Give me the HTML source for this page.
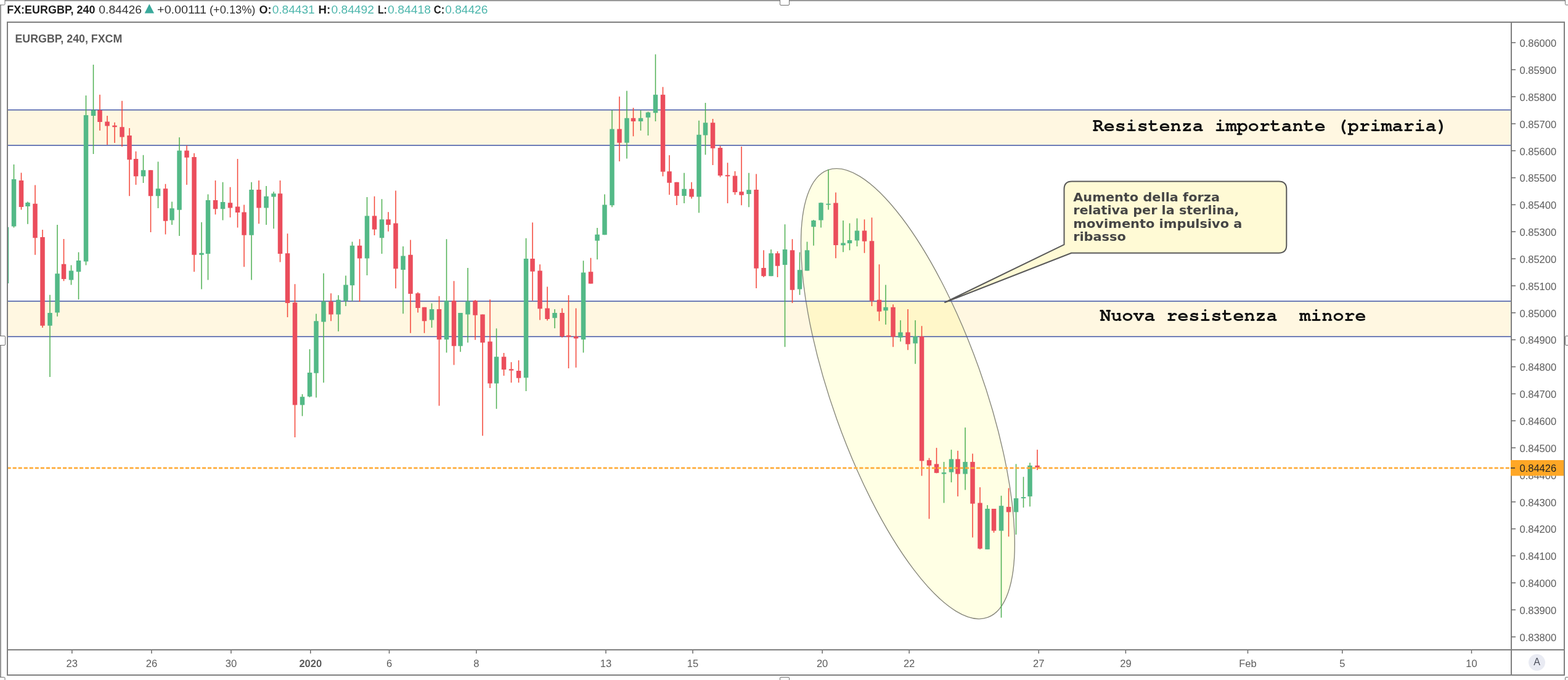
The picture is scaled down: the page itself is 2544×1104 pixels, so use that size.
<!DOCTYPE html><html><head><meta charset="utf-8"><title>EURGBP chart</title><style>
html,body{margin:0;padding:0;background:#fff;width:2544px;height:1104px;overflow:hidden}
svg{display:block}
text{font-family:"Liberation Sans",Arial,sans-serif}
.ax{font-size:16.5px;fill:#5c5c5c}
.mono{font-family:"TeX Gyre Cursor","FreeMono","Liberation Mono","Courier New",monospace;font-weight:bold;fill:#111}
</style></head><body>
<svg width="2544" height="1104" viewBox="0 0 2544 1104">
<defs><clipPath id="pane"><rect x="13" y="37" width="2438" height="1017"/></clipPath></defs>
<rect x="0" y="0" width="2544" height="1104" fill="#fff"/>
<g clip-path="url(#pane)">
<rect x="13" y="178.5" width="2438" height="57.5" fill="#ffbc05" fill-opacity="0.12"/>
<rect x="13" y="489" width="2438" height="57.5" fill="#ffbc05" fill-opacity="0.12"/>
<ellipse cx="1472.92" cy="639.2" rx="385.61" ry="122.51" transform="rotate(70.39 1472.92 639.2)" fill="#ffff00" fill-opacity="0.107" stroke="#858579" stroke-width="1.35"/>
<line x1="13" y1="178.5" x2="2451" y2="178.5" stroke="#3d52a3" stroke-width="1.6"/>
<line x1="13" y1="236" x2="2451" y2="236" stroke="#3d52a3" stroke-width="1.6"/>
<line x1="13" y1="489" x2="2451" y2="489" stroke="#3d52a3" stroke-width="1.6"/>
<line x1="13" y1="546.5" x2="2451" y2="546.5" stroke="#3d52a3" stroke-width="1.6"/>
<rect x="9.75" y="368.75" width="1.5" height="91.25" fill="#4caf50"/>
<rect x="6.75" y="368.75" width="7.5" height="91.25" fill="#53b987"/>
<rect x="21.75" y="267.0" width="1.5" height="102.50" fill="#4caf50"/>
<rect x="18.75" y="291.0" width="7.5" height="76.50" fill="#53b987"/>
<rect x="33.75" y="280.5" width="1.5" height="60.00" fill="#f44336"/>
<rect x="30.75" y="293.0" width="7.5" height="43.00" fill="#eb4d5c"/>
<rect x="44.25" y="327.5" width="1.5" height="36.25" fill="#4caf50"/>
<rect x="41.25" y="329.0" width="7.5" height="6.00" fill="#53b987"/>
<rect x="56.25" y="300.5" width="1.5" height="113.25" fill="#f44336"/>
<rect x="53.25" y="330.75" width="7.5" height="55.50" fill="#eb4d5c"/>
<rect x="68.25" y="373.0" width="1.5" height="159.00" fill="#f44336"/>
<rect x="65.25" y="385.0" width="7.5" height="143.75" fill="#eb4d5c"/>
<rect x="80.25" y="478.75" width="1.5" height="133.25" fill="#4caf50"/>
<rect x="77.25" y="508.0" width="7.5" height="20.75" fill="#53b987"/>
<rect x="92.25" y="365.0" width="1.5" height="148.75" fill="#4caf50"/>
<rect x="89.25" y="444.25" width="7.5" height="63.25" fill="#53b987"/>
<rect x="102.75" y="388.0" width="1.5" height="68.25" fill="#f44336"/>
<rect x="99.75" y="428.75" width="7.5" height="24.25" fill="#eb4d5c"/>
<rect x="114.75" y="430.5" width="1.5" height="32.00" fill="#4caf50"/>
<rect x="111.75" y="439.5" width="7.5" height="15.00" fill="#53b987"/>
<rect x="126.75" y="409.5" width="1.5" height="76.75" fill="#4caf50"/>
<rect x="123.75" y="423.0" width="7.5" height="18.25" fill="#53b987"/>
<rect x="138.75" y="155.0" width="1.5" height="275.50" fill="#4caf50"/>
<rect x="135.75" y="187.0" width="7.5" height="237.50" fill="#53b987"/>
<rect x="150.75" y="105.0" width="1.5" height="145.00" fill="#4caf50"/>
<rect x="147.75" y="179.0" width="7.5" height="9.00" fill="#53b987"/>
<rect x="161.25" y="153.75" width="1.5" height="58.25" fill="#f44336"/>
<rect x="158.25" y="179.0" width="7.5" height="19.00" fill="#eb4d5c"/>
<rect x="173.25" y="188.0" width="1.5" height="47.00" fill="#f44336"/>
<rect x="170.25" y="197.5" width="7.5" height="7.00" fill="#eb4d5c"/>
<rect x="185.25" y="198.75" width="1.5" height="33.25" fill="#f44336"/>
<rect x="182.25" y="203.75" width="7.5" height="2.50" fill="#eb4d5c"/>
<rect x="197.25" y="163.75" width="1.5" height="74.25" fill="#f44336"/>
<rect x="194.25" y="206.25" width="7.5" height="16.25" fill="#eb4d5c"/>
<rect x="209.25" y="208.0" width="1.5" height="110.25" fill="#f44336"/>
<rect x="206.25" y="220.0" width="7.5" height="39.25" fill="#eb4d5c"/>
<rect x="219.75" y="245.75" width="1.5" height="54.25" fill="#f44336"/>
<rect x="216.75" y="258.0" width="7.5" height="28.25" fill="#eb4d5c"/>
<rect x="231.75" y="251.75" width="1.5" height="45.25" fill="#4caf50"/>
<rect x="228.75" y="276.25" width="7.5" height="10.00" fill="#53b987"/>
<rect x="243.75" y="276.25" width="1.5" height="100.75" fill="#f44336"/>
<rect x="240.75" y="276.25" width="7.5" height="42.00" fill="#eb4d5c"/>
<rect x="255.75" y="262.5" width="1.5" height="75.50" fill="#4caf50"/>
<rect x="252.75" y="306.25" width="7.5" height="12.00" fill="#53b987"/>
<rect x="267.75" y="298.75" width="1.5" height="81.75" fill="#f44336"/>
<rect x="264.75" y="306.25" width="7.5" height="52.50" fill="#eb4d5c"/>
<rect x="278.25" y="327.5" width="1.5" height="37.50" fill="#4caf50"/>
<rect x="275.25" y="338.25" width="7.5" height="19.25" fill="#53b987"/>
<rect x="290.25" y="223.0" width="1.5" height="160.00" fill="#4caf50"/>
<rect x="287.25" y="244.5" width="7.5" height="96.25" fill="#53b987"/>
<rect x="302.25" y="236.25" width="1.5" height="63.75" fill="#f44336"/>
<rect x="299.25" y="244.5" width="7.5" height="11.25" fill="#eb4d5c"/>
<rect x="314.25" y="248.75" width="1.5" height="192.50" fill="#f44336"/>
<rect x="311.25" y="255.0" width="7.5" height="158.75" fill="#eb4d5c"/>
<rect x="326.25" y="360.75" width="1.5" height="108.75" fill="#4caf50"/>
<rect x="323.25" y="410.75" width="7.5" height="3.00" fill="#53b987"/>
<rect x="336.75" y="315.5" width="1.5" height="139.00" fill="#4caf50"/>
<rect x="333.75" y="325.0" width="7.5" height="87.00" fill="#53b987"/>
<rect x="348.75" y="293.0" width="1.5" height="55.25" fill="#f44336"/>
<rect x="345.75" y="325.0" width="7.5" height="14.25" fill="#eb4d5c"/>
<rect x="360.75" y="295.75" width="1.5" height="61.75" fill="#4caf50"/>
<rect x="357.75" y="328.0" width="7.5" height="11.25" fill="#53b987"/>
<rect x="372.75" y="303.75" width="1.5" height="49.25" fill="#f44336"/>
<rect x="369.75" y="329.25" width="7.5" height="8.25" fill="#eb4d5c"/>
<rect x="384.75" y="258.0" width="1.5" height="111.50" fill="#f44336"/>
<rect x="381.75" y="335.5" width="7.5" height="9.50" fill="#eb4d5c"/>
<rect x="395.25" y="332.5" width="1.5" height="100.75" fill="#f44336"/>
<rect x="392.25" y="344.5" width="7.5" height="37.25" fill="#eb4d5c"/>
<rect x="407.25" y="295.75" width="1.5" height="158.75" fill="#4caf50"/>
<rect x="404.25" y="308.0" width="7.5" height="73.75" fill="#53b987"/>
<rect x="419.25" y="293.0" width="1.5" height="70.25" fill="#f44336"/>
<rect x="416.25" y="308.0" width="7.5" height="29.50" fill="#eb4d5c"/>
<rect x="431.25" y="302.0" width="1.5" height="63.00" fill="#4caf50"/>
<rect x="428.25" y="318.75" width="7.5" height="18.75" fill="#53b987"/>
<rect x="443.25" y="311.25" width="1.5" height="60.00" fill="#4caf50"/>
<rect x="440.25" y="314.25" width="7.5" height="5.25" fill="#53b987"/>
<rect x="453.75" y="293.0" width="1.5" height="132.50" fill="#f44336"/>
<rect x="450.75" y="314.25" width="7.5" height="97.75" fill="#eb4d5c"/>
<rect x="465.75" y="379.25" width="1.5" height="135.75" fill="#f44336"/>
<rect x="462.75" y="411.25" width="7.5" height="80.75" fill="#eb4d5c"/>
<rect x="477.75" y="461.25" width="1.5" height="248.75" fill="#f44336"/>
<rect x="474.75" y="491.25" width="7.5" height="166.25" fill="#eb4d5c"/>
<rect x="489.75" y="640.0" width="1.5" height="35.50" fill="#4caf50"/>
<rect x="486.75" y="644.25" width="7.5" height="13.25" fill="#53b987"/>
<rect x="501.75" y="567.0" width="1.5" height="78.00" fill="#4caf50"/>
<rect x="498.75" y="605.0" width="7.5" height="38.75" fill="#53b987"/>
<rect x="512.25" y="509.5" width="1.5" height="136.00" fill="#4caf50"/>
<rect x="509.25" y="521.25" width="7.5" height="84.50" fill="#53b987"/>
<rect x="524.25" y="443.75" width="1.5" height="177.50" fill="#4caf50"/>
<rect x="521.25" y="489.5" width="7.5" height="33.00" fill="#53b987"/>
<rect x="536.25" y="476.25" width="1.5" height="45.00" fill="#f44336"/>
<rect x="533.25" y="489.5" width="7.5" height="21.00" fill="#eb4d5c"/>
<rect x="548.25" y="479.25" width="1.5" height="58.75" fill="#4caf50"/>
<rect x="545.25" y="486.75" width="7.5" height="23.75" fill="#53b987"/>
<rect x="560.25" y="447.5" width="1.5" height="49.50" fill="#4caf50"/>
<rect x="557.25" y="462.5" width="7.5" height="25.50" fill="#53b987"/>
<rect x="570.75" y="392.5" width="1.5" height="96.25" fill="#4caf50"/>
<rect x="567.75" y="398.75" width="7.5" height="64.50" fill="#53b987"/>
<rect x="582.75" y="388.25" width="1.5" height="101.75" fill="#f44336"/>
<rect x="579.75" y="398.75" width="7.5" height="20.75" fill="#eb4d5c"/>
<rect x="594.75" y="320.0" width="1.5" height="127.00" fill="#4caf50"/>
<rect x="591.75" y="350.5" width="7.5" height="69.00" fill="#53b987"/>
<rect x="606.75" y="318.75" width="1.5" height="63.25" fill="#f44336"/>
<rect x="603.75" y="350.5" width="7.5" height="22.00" fill="#eb4d5c"/>
<rect x="618.75" y="323.25" width="1.5" height="88.75" fill="#4caf50"/>
<rect x="615.75" y="356.25" width="7.5" height="30.00" fill="#53b987"/>
<rect x="629.25" y="344.25" width="1.5" height="31.50" fill="#f44336"/>
<rect x="626.25" y="356.25" width="7.5" height="8.75" fill="#eb4d5c"/>
<rect x="641.25" y="309.5" width="1.5" height="158.75" fill="#f44336"/>
<rect x="638.25" y="362.5" width="7.5" height="73.75" fill="#eb4d5c"/>
<rect x="653.25" y="400.0" width="1.5" height="109.25" fill="#4caf50"/>
<rect x="650.25" y="415.5" width="7.5" height="22.50" fill="#53b987"/>
<rect x="665.25" y="389.5" width="1.5" height="151.25" fill="#f44336"/>
<rect x="662.25" y="413.75" width="7.5" height="63.25" fill="#eb4d5c"/>
<rect x="677.25" y="474.5" width="1.5" height="33.00" fill="#f44336"/>
<rect x="674.25" y="476.25" width="7.5" height="23.75" fill="#eb4d5c"/>
<rect x="687.75" y="498.75" width="1.5" height="42.00" fill="#f44336"/>
<rect x="684.75" y="498.75" width="7.5" height="22.50" fill="#eb4d5c"/>
<rect x="699.75" y="492.5" width="1.5" height="39.50" fill="#4caf50"/>
<rect x="696.75" y="502.0" width="7.5" height="17.50" fill="#53b987"/>
<rect x="711.75" y="480.75" width="1.5" height="178.00" fill="#f44336"/>
<rect x="708.75" y="502.0" width="7.5" height="49.25" fill="#eb4d5c"/>
<rect x="723.75" y="388.25" width="1.5" height="184.25" fill="#4caf50"/>
<rect x="720.75" y="488.25" width="7.5" height="63.00" fill="#53b987"/>
<rect x="735.75" y="456.25" width="1.5" height="136.25" fill="#f44336"/>
<rect x="732.75" y="488.25" width="7.5" height="73.50" fill="#eb4d5c"/>
<rect x="746.25" y="508.0" width="1.5" height="63.25" fill="#4caf50"/>
<rect x="743.25" y="508.0" width="7.5" height="53.75" fill="#53b987"/>
<rect x="758.25" y="435.0" width="1.5" height="121.25" fill="#4caf50"/>
<rect x="755.25" y="489.25" width="7.5" height="21.25" fill="#53b987"/>
<rect x="770.25" y="487.0" width="1.5" height="64.75" fill="#f44336"/>
<rect x="767.25" y="488.25" width="7.5" height="23.50" fill="#eb4d5c"/>
<rect x="782.25" y="510.5" width="1.5" height="197.00" fill="#f44336"/>
<rect x="779.25" y="510.5" width="7.5" height="45.75" fill="#eb4d5c"/>
<rect x="794.25" y="486.25" width="1.5" height="143.75" fill="#f44336"/>
<rect x="791.25" y="554.5" width="7.5" height="68.00" fill="#eb4d5c"/>
<rect x="804.75" y="533.25" width="1.5" height="130.50" fill="#4caf50"/>
<rect x="801.75" y="579.25" width="7.5" height="43.25" fill="#53b987"/>
<rect x="816.75" y="573.0" width="1.5" height="37.00" fill="#f44336"/>
<rect x="813.75" y="579.25" width="7.5" height="20.75" fill="#eb4d5c"/>
<rect x="828.75" y="588.0" width="1.5" height="33.25" fill="#f44336"/>
<rect x="825.75" y="599.25" width="7.5" height="2.25" fill="#eb4d5c"/>
<rect x="840.75" y="585.0" width="1.5" height="36.25" fill="#f44336"/>
<rect x="837.75" y="602.0" width="7.5" height="11.75" fill="#eb4d5c"/>
<rect x="852.75" y="386.75" width="1.5" height="248.25" fill="#4caf50"/>
<rect x="849.75" y="420.0" width="7.5" height="193.25" fill="#53b987"/>
<rect x="863.25" y="361.25" width="1.5" height="126.75" fill="#f44336"/>
<rect x="860.25" y="420.0" width="7.5" height="20.75" fill="#eb4d5c"/>
<rect x="875.25" y="429.25" width="1.5" height="90.25" fill="#f44336"/>
<rect x="872.25" y="439.5" width="7.5" height="61.75" fill="#eb4d5c"/>
<rect x="887.25" y="465.5" width="1.5" height="55.00" fill="#f44336"/>
<rect x="884.25" y="500.5" width="7.5" height="17.50" fill="#eb4d5c"/>
<rect x="899.25" y="502.0" width="1.5" height="31.00" fill="#4caf50"/>
<rect x="896.25" y="508.0" width="7.5" height="8.25" fill="#53b987"/>
<rect x="911.25" y="500.5" width="1.5" height="47.50" fill="#f44336"/>
<rect x="908.25" y="508.0" width="7.5" height="38.25" fill="#eb4d5c"/>
<rect x="921.75" y="479.25" width="1.5" height="118.75" fill="#f44336"/>
<rect x="918.75" y="544.5" width="7.5" height="2.50" fill="#eb4d5c"/>
<rect x="933.75" y="500.5" width="1.5" height="96.25" fill="#f44336"/>
<rect x="930.75" y="546.25" width="7.5" height="3.25" fill="#eb4d5c"/>
<rect x="945.75" y="423.25" width="1.5" height="149.25" fill="#4caf50"/>
<rect x="942.75" y="442.5" width="7.5" height="108.75" fill="#53b987"/>
<rect x="957.75" y="418.75" width="1.5" height="41.75" fill="#f44336"/>
<rect x="954.75" y="441.25" width="7.5" height="19.25" fill="#eb4d5c"/>
<rect x="968.25" y="370.0" width="1.5" height="51.25" fill="#4caf50"/>
<rect x="965.25" y="380.75" width="7.5" height="10.00" fill="#53b987"/>
<rect x="980.25" y="315.5" width="1.5" height="65.75" fill="#4caf50"/>
<rect x="977.25" y="332.5" width="7.5" height="48.75" fill="#53b987"/>
<rect x="992.25" y="178.75" width="1.5" height="157.50" fill="#4caf50"/>
<rect x="989.25" y="209.5" width="7.5" height="123.75" fill="#53b987"/>
<rect x="1004.25" y="156.75" width="1.5" height="105.25" fill="#f44336"/>
<rect x="1001.25" y="209.5" width="7.5" height="22.25" fill="#eb4d5c"/>
<rect x="1016.25" y="147.5" width="1.5" height="110.00" fill="#4caf50"/>
<rect x="1013.25" y="191.75" width="7.5" height="40.00" fill="#53b987"/>
<rect x="1026.75" y="175.0" width="1.5" height="46.25" fill="#f44336"/>
<rect x="1023.75" y="191.75" width="7.5" height="5.25" fill="#eb4d5c"/>
<rect x="1038.75" y="179.25" width="1.5" height="32.75" fill="#4caf50"/>
<rect x="1035.75" y="191.75" width="7.5" height="5.25" fill="#53b987"/>
<rect x="1050.75" y="181.25" width="1.5" height="38.75" fill="#4caf50"/>
<rect x="1047.75" y="182.5" width="7.5" height="8.25" fill="#53b987"/>
<rect x="1062.75" y="88.25" width="1.5" height="108.75" fill="#4caf50"/>
<rect x="1059.75" y="153.75" width="7.5" height="29.50" fill="#53b987"/>
<rect x="1074.75" y="141.25" width="1.5" height="145.00" fill="#f44336"/>
<rect x="1071.75" y="153.75" width="7.5" height="125.00" fill="#eb4d5c"/>
<rect x="1085.25" y="252.0" width="1.5" height="64.25" fill="#f44336"/>
<rect x="1082.25" y="278.25" width="7.5" height="18.50" fill="#eb4d5c"/>
<rect x="1097.25" y="295.75" width="1.5" height="37.25" fill="#f44336"/>
<rect x="1094.25" y="295.75" width="7.5" height="22.25" fill="#eb4d5c"/>
<rect x="1109.25" y="280.75" width="1.5" height="49.25" fill="#4caf50"/>
<rect x="1106.25" y="306.75" width="7.5" height="11.25" fill="#53b987"/>
<rect x="1121.25" y="295.75" width="1.5" height="26.75" fill="#f44336"/>
<rect x="1118.25" y="306.75" width="7.5" height="12.75" fill="#eb4d5c"/>
<rect x="1133.25" y="195.75" width="1.5" height="149.75" fill="#4caf50"/>
<rect x="1130.25" y="218.75" width="7.5" height="100.75" fill="#53b987"/>
<rect x="1143.75" y="167.0" width="1.5" height="84.25" fill="#4caf50"/>
<rect x="1140.75" y="199.25" width="7.5" height="20.25" fill="#53b987"/>
<rect x="1155.75" y="193.0" width="1.5" height="75.00" fill="#f44336"/>
<rect x="1152.75" y="199.25" width="7.5" height="41.50" fill="#eb4d5c"/>
<rect x="1167.75" y="237.0" width="1.5" height="50.50" fill="#f44336"/>
<rect x="1164.75" y="240.0" width="7.5" height="45.00" fill="#eb4d5c"/>
<rect x="1179.75" y="264.25" width="1.5" height="65.75" fill="#f44336"/>
<rect x="1176.75" y="284.25" width="7.5" height="2.00" fill="#eb4d5c"/>
<rect x="1191.75" y="278.0" width="1.5" height="38.25" fill="#f44336"/>
<rect x="1188.75" y="285.5" width="7.5" height="26.50" fill="#eb4d5c"/>
<rect x="1202.25" y="238.0" width="1.5" height="95.25" fill="#f44336"/>
<rect x="1199.25" y="311.25" width="7.5" height="5.50" fill="#eb4d5c"/>
<rect x="1214.25" y="280.75" width="1.5" height="55.50" fill="#4caf50"/>
<rect x="1211.25" y="308.25" width="7.5" height="6.75" fill="#53b987"/>
<rect x="1226.25" y="282.5" width="1.5" height="185.50" fill="#f44336"/>
<rect x="1223.25" y="308.0" width="7.5" height="127.75" fill="#eb4d5c"/>
<rect x="1238.25" y="406.25" width="1.5" height="43.75" fill="#f44336"/>
<rect x="1235.25" y="435.0" width="7.5" height="13.25" fill="#eb4d5c"/>
<rect x="1250.25" y="405.0" width="1.5" height="43.25" fill="#4caf50"/>
<rect x="1247.25" y="411.25" width="7.5" height="37.00" fill="#53b987"/>
<rect x="1260.75" y="408.0" width="1.5" height="42.00" fill="#f44336"/>
<rect x="1257.75" y="411.25" width="7.5" height="20.50" fill="#eb4d5c"/>
<rect x="1272.75" y="364.25" width="1.5" height="199.00" fill="#4caf50"/>
<rect x="1269.75" y="405.0" width="7.5" height="25.00" fill="#53b987"/>
<rect x="1284.75" y="388.25" width="1.5" height="103.75" fill="#f44336"/>
<rect x="1281.75" y="406.25" width="7.5" height="64.50" fill="#eb4d5c"/>
<rect x="1296.75" y="409.5" width="1.5" height="69.25" fill="#4caf50"/>
<rect x="1293.75" y="438.25" width="7.5" height="31.25" fill="#53b987"/>
<rect x="1308.75" y="392.5" width="1.5" height="47.00" fill="#4caf50"/>
<rect x="1305.75" y="406.25" width="7.5" height="33.25" fill="#53b987"/>
<rect x="1319.25" y="357.0" width="1.5" height="41.75" fill="#4caf50"/>
<rect x="1316.25" y="358.0" width="7.5" height="10.25" fill="#53b987"/>
<rect x="1331.25" y="328.75" width="1.5" height="40.75" fill="#4caf50"/>
<rect x="1328.25" y="329.25" width="7.5" height="28.25" fill="#53b987"/>
<rect x="1343.25" y="275.0" width="1.5" height="65.50" fill="#4caf50"/>
<rect x="1340.25" y="330.75" width="7.5" height="1.75" fill="#53b987"/>
<rect x="1355.25" y="312.5" width="1.5" height="106.75" fill="#f44336"/>
<rect x="1352.25" y="329.5" width="7.5" height="68.50" fill="#eb4d5c"/>
<rect x="1367.25" y="358.0" width="1.5" height="51.25" fill="#4caf50"/>
<rect x="1364.25" y="394.5" width="7.5" height="3.75" fill="#53b987"/>
<rect x="1377.75" y="362.5" width="1.5" height="43.75" fill="#4caf50"/>
<rect x="1374.75" y="390.0" width="7.5" height="5.00" fill="#53b987"/>
<rect x="1389.75" y="354.5" width="1.5" height="45.50" fill="#4caf50"/>
<rect x="1386.75" y="374.5" width="7.5" height="16.00" fill="#53b987"/>
<rect x="1401.75" y="356.25" width="1.5" height="54.50" fill="#f44336"/>
<rect x="1398.75" y="374.5" width="7.5" height="17.25" fill="#eb4d5c"/>
<rect x="1413.75" y="353.25" width="1.5" height="143.75" fill="#f44336"/>
<rect x="1410.75" y="391.25" width="7.5" height="97.00" fill="#eb4d5c"/>
<rect x="1425.75" y="429.25" width="1.5" height="92.00" fill="#f44336"/>
<rect x="1422.75" y="486.75" width="7.5" height="19.00" fill="#eb4d5c"/>
<rect x="1436.25" y="462.5" width="1.5" height="64.50" fill="#4caf50"/>
<rect x="1433.25" y="498.75" width="7.5" height="5.50" fill="#53b987"/>
<rect x="1448.25" y="494.25" width="1.5" height="69.00" fill="#f44336"/>
<rect x="1445.25" y="498.75" width="7.5" height="48.00" fill="#eb4d5c"/>
<rect x="1460.25" y="520.0" width="1.5" height="34.50" fill="#4caf50"/>
<rect x="1457.25" y="539.5" width="7.5" height="8.50" fill="#53b987"/>
<rect x="1472.25" y="502.0" width="1.5" height="66.25" fill="#f44336"/>
<rect x="1469.25" y="539.5" width="7.5" height="19.25" fill="#eb4d5c"/>
<rect x="1484.25" y="520.0" width="1.5" height="70.75" fill="#4caf50"/>
<rect x="1481.25" y="546.25" width="7.5" height="11.25" fill="#53b987"/>
<rect x="1494.75" y="529.25" width="1.5" height="243.25" fill="#f44336"/>
<rect x="1491.75" y="546.25" width="7.5" height="202.05" fill="#eb4d5c"/>
<rect x="1506.75" y="743.6" width="1.5" height="98.80" fill="#f44336"/>
<rect x="1503.75" y="747.1" width="7.5" height="8.70" fill="#eb4d5c"/>
<rect x="1518.75" y="727.1" width="1.5" height="41.20" fill="#f44336"/>
<rect x="1515.75" y="753.4" width="7.5" height="14.40" fill="#eb4d5c"/>
<rect x="1530.75" y="749.9" width="1.5" height="66.60" fill="#4caf50"/>
<rect x="1527.75" y="767.1" width="7.5" height="2.40" fill="#53b987"/>
<rect x="1542.75" y="730.1" width="1.5" height="53.00" fill="#4caf50"/>
<rect x="1539.75" y="745.4" width="7.5" height="21.20" fill="#53b987"/>
<rect x="1553.25" y="731.8" width="1.5" height="74.10" fill="#f44336"/>
<rect x="1550.25" y="745.4" width="7.5" height="24.10" fill="#eb4d5c"/>
<rect x="1565.25" y="694.1" width="1.5" height="101.30" fill="#4caf50"/>
<rect x="1562.25" y="749.9" width="7.5" height="19.60" fill="#53b987"/>
<rect x="1577.25" y="736.5" width="1.5" height="136.10" fill="#f44336"/>
<rect x="1574.25" y="749.9" width="7.5" height="67.80" fill="#eb4d5c"/>
<rect x="1589.25" y="791.1" width="1.5" height="100.80" fill="#f44336"/>
<rect x="1586.25" y="816.5" width="7.5" height="74.20" fill="#eb4d5c"/>
<rect x="1601.25" y="820.1" width="1.5" height="71.80" fill="#4caf50"/>
<rect x="1598.25" y="826.0" width="7.5" height="65.90" fill="#53b987"/>
<rect x="1611.75" y="826.0" width="1.5" height="38.80" fill="#f44336"/>
<rect x="1608.75" y="826.0" width="7.5" height="35.70" fill="#eb4d5c"/>
<rect x="1623.75" y="804.8" width="1.5" height="197.95" fill="#4caf50"/>
<rect x="1620.75" y="821.2" width="7.5" height="40.50" fill="#53b987"/>
<rect x="1635.75" y="792.5" width="1.5" height="78.70" fill="#f44336"/>
<rect x="1632.75" y="822.9" width="7.5" height="8.50" fill="#eb4d5c"/>
<rect x="1647.75" y="753.4" width="1.5" height="114.50" fill="#4caf50"/>
<rect x="1644.75" y="809.0" width="7.5" height="22.40" fill="#53b987"/>
<rect x="1659.75" y="774.2" width="1.5" height="49.90" fill="#4caf50"/>
<rect x="1656.75" y="807.1" width="7.5" height="1.90" fill="#53b987"/>
<rect x="1670.25" y="751.3" width="1.5" height="71.10" fill="#4caf50"/>
<rect x="1667.25" y="755.8" width="7.5" height="50.10" fill="#53b987"/>
<rect x="1682.25" y="730.1" width="1.5" height="33.00" fill="#f44336"/>
<rect x="1679.25" y="755.8" width="7.5" height="3.10" fill="#eb4d5c"/>
<line x1="13" y1="759.8" x2="2451" y2="759.8" stroke="#ffab38" stroke-width="2.7" stroke-dasharray="6.1 2.9375" stroke-dashoffset="1.4"/>
<text class="mono" x="1772.8" y="212.5" font-size="30">Resistenza importante (primaria)</text>
<text class="mono" x="1784.5" y="520.5" font-size="30" xml:space="preserve">Nuova resistenza  minore</text>
<path d="M1739,294.5 H2074.8 Q2087.3,294.5 2087.3,307 V398 Q2087.3,410.7 2074.8,410.7 H1738.3 L1533,491 L1726.5,397.2 V307 Q1726.5,294.5 1739,294.5 Z" fill="#fffad5" stroke="#595959" stroke-width="2" stroke-linejoin="round"/>
<text x="1741.2" y="326.9" font-size="19.3" font-weight="bold" fill="#454545" style="font-family:'DejaVu Sans',Verdana,sans-serif" textLength="237.8" lengthAdjust="spacingAndGlyphs">Aumento della forza</text>
<text x="1741.2" y="348.3" font-size="19.3" font-weight="bold" fill="#454545" style="font-family:'DejaVu Sans',Verdana,sans-serif" textLength="269.1" lengthAdjust="spacingAndGlyphs">relativa per la sterlina,</text>
<text x="1741.2" y="369.75" font-size="19.3" font-weight="bold" fill="#454545" style="font-family:'DejaVu Sans',Verdana,sans-serif" textLength="274.3" lengthAdjust="spacingAndGlyphs">movimento impulsivo a</text>
<text x="1741.2" y="390.5" font-size="19.3" font-weight="bold" fill="#454545" style="font-family:'DejaVu Sans',Verdana,sans-serif" textLength="85.6" lengthAdjust="spacingAndGlyphs">ribasso</text>
<text x="24.5" y="68.8" font-size="19" font-weight="bold" fill="#5a5a5a" textLength="173.8" lengthAdjust="spacingAndGlyphs">EURGBP, 240, FXCM</text>
</g>
<g fill="none" stroke="#7f7f7f" stroke-width="2">
<rect x="12" y="36" width="2526" height="1060"/>
<line x1="2452" y1="36" x2="2452" y2="1096"/>
<line x1="12" y1="1055" x2="2538" y2="1055"/>
</g>
<line x1="2452" y1="69.3" x2="2459" y2="69.3" stroke="#6a6a6a" stroke-width="1.5"/>
<text class="ax" x="2465.5" y="76.1">0.86000</text>
<line x1="2452" y1="113.2" x2="2459" y2="113.2" stroke="#6a6a6a" stroke-width="1.5"/>
<text class="ax" x="2465.5" y="120.0">0.85900</text>
<line x1="2452" y1="157.0" x2="2459" y2="157.0" stroke="#6a6a6a" stroke-width="1.5"/>
<text class="ax" x="2465.5" y="163.8">0.85800</text>
<line x1="2452" y1="200.9" x2="2459" y2="200.9" stroke="#6a6a6a" stroke-width="1.5"/>
<text class="ax" x="2465.5" y="207.7">0.85700</text>
<line x1="2452" y1="244.7" x2="2459" y2="244.7" stroke="#6a6a6a" stroke-width="1.5"/>
<text class="ax" x="2465.5" y="251.5">0.85600</text>
<line x1="2452" y1="288.6" x2="2459" y2="288.6" stroke="#6a6a6a" stroke-width="1.5"/>
<text class="ax" x="2465.5" y="295.4">0.85500</text>
<line x1="2452" y1="332.4" x2="2459" y2="332.4" stroke="#6a6a6a" stroke-width="1.5"/>
<text class="ax" x="2465.5" y="339.2">0.85400</text>
<line x1="2452" y1="376.2" x2="2459" y2="376.2" stroke="#6a6a6a" stroke-width="1.5"/>
<text class="ax" x="2465.5" y="383.1">0.85300</text>
<line x1="2452" y1="420.1" x2="2459" y2="420.1" stroke="#6a6a6a" stroke-width="1.5"/>
<text class="ax" x="2465.5" y="426.9">0.85200</text>
<line x1="2452" y1="464.0" x2="2459" y2="464.0" stroke="#6a6a6a" stroke-width="1.5"/>
<text class="ax" x="2465.5" y="470.8">0.85100</text>
<line x1="2452" y1="507.8" x2="2459" y2="507.8" stroke="#6a6a6a" stroke-width="1.5"/>
<text class="ax" x="2465.5" y="514.6">0.85000</text>
<line x1="2452" y1="551.6" x2="2459" y2="551.6" stroke="#6a6a6a" stroke-width="1.5"/>
<text class="ax" x="2465.5" y="558.4">0.84900</text>
<line x1="2452" y1="595.5" x2="2459" y2="595.5" stroke="#6a6a6a" stroke-width="1.5"/>
<text class="ax" x="2465.5" y="602.3">0.84800</text>
<line x1="2452" y1="639.4" x2="2459" y2="639.4" stroke="#6a6a6a" stroke-width="1.5"/>
<text class="ax" x="2465.5" y="646.1">0.84700</text>
<line x1="2452" y1="683.2" x2="2459" y2="683.2" stroke="#6a6a6a" stroke-width="1.5"/>
<text class="ax" x="2465.5" y="690.0">0.84600</text>
<line x1="2452" y1="727.0" x2="2459" y2="727.0" stroke="#6a6a6a" stroke-width="1.5"/>
<text class="ax" x="2465.5" y="733.8">0.84500</text>
<line x1="2452" y1="770.9" x2="2459" y2="770.9" stroke="#6a6a6a" stroke-width="1.5"/>
<text class="ax" x="2465.5" y="777.7">0.84400</text>
<line x1="2452" y1="814.8" x2="2459" y2="814.8" stroke="#6a6a6a" stroke-width="1.5"/>
<text class="ax" x="2465.5" y="821.5">0.84300</text>
<line x1="2452" y1="858.6" x2="2459" y2="858.6" stroke="#6a6a6a" stroke-width="1.5"/>
<text class="ax" x="2465.5" y="865.4">0.84200</text>
<line x1="2452" y1="902.4" x2="2459" y2="902.4" stroke="#6a6a6a" stroke-width="1.5"/>
<text class="ax" x="2465.5" y="909.2">0.84100</text>
<line x1="2452" y1="946.3" x2="2459" y2="946.3" stroke="#6a6a6a" stroke-width="1.5"/>
<text class="ax" x="2465.5" y="953.1">0.84000</text>
<line x1="2452" y1="990.1" x2="2459" y2="990.1" stroke="#6a6a6a" stroke-width="1.5"/>
<text class="ax" x="2465.5" y="996.9">0.83900</text>
<line x1="2452" y1="1034.0" x2="2459" y2="1034.0" stroke="#6a6a6a" stroke-width="1.5"/>
<text class="ax" x="2465.5" y="1040.8">0.83800</text>
<rect x="2451" y="747" width="86" height="25.5" fill="#ffa726"/>
<line x1="2451" y1="759.8" x2="2458" y2="759.8" stroke="#333" stroke-width="1.5"/>
<text x="2465.5" y="765.8" font-size="16.5" fill="#222">0.84426</text>
<line x1="116.8" y1="1056" x2="116.8" y2="1061" stroke="#6a6a6a" stroke-width="1.5"/>
<text class="ax" x="116.8" y="1083" text-anchor="middle">23</text>
<line x1="245.9" y1="1056" x2="245.9" y2="1061" stroke="#6a6a6a" stroke-width="1.5"/>
<text class="ax" x="245.9" y="1083" text-anchor="middle">26</text>
<line x1="374.9" y1="1056" x2="374.9" y2="1061" stroke="#6a6a6a" stroke-width="1.5"/>
<text class="ax" x="374.9" y="1083" text-anchor="middle">30</text>
<line x1="503.8" y1="1056" x2="503.8" y2="1061" stroke="#6a6a6a" stroke-width="1.5"/>
<text class="ax" x="503.8" y="1083" text-anchor="middle" font-weight="bold">2020</text>
<line x1="631.5" y1="1056" x2="631.5" y2="1061" stroke="#6a6a6a" stroke-width="1.5"/>
<text class="ax" x="631.5" y="1083" text-anchor="middle">6</text>
<line x1="772.8" y1="1056" x2="772.8" y2="1061" stroke="#6a6a6a" stroke-width="1.5"/>
<text class="ax" x="772.8" y="1083" text-anchor="middle">8</text>
<line x1="983" y1="1056" x2="983" y2="1061" stroke="#6a6a6a" stroke-width="1.5"/>
<text class="ax" x="983" y="1083" text-anchor="middle">13</text>
<line x1="1124" y1="1056" x2="1124" y2="1061" stroke="#6a6a6a" stroke-width="1.5"/>
<text class="ax" x="1124" y="1083" text-anchor="middle">15</text>
<line x1="1334.1" y1="1056" x2="1334.1" y2="1061" stroke="#6a6a6a" stroke-width="1.5"/>
<text class="ax" x="1334.1" y="1083" text-anchor="middle">20</text>
<line x1="1475.1" y1="1056" x2="1475.1" y2="1061" stroke="#6a6a6a" stroke-width="1.5"/>
<text class="ax" x="1475.1" y="1083" text-anchor="middle">22</text>
<line x1="1685.3" y1="1056" x2="1685.3" y2="1061" stroke="#6a6a6a" stroke-width="1.5"/>
<text class="ax" x="1685.3" y="1083" text-anchor="middle">27</text>
<line x1="1826.4" y1="1056" x2="1826.4" y2="1061" stroke="#6a6a6a" stroke-width="1.5"/>
<text class="ax" x="1826.4" y="1083" text-anchor="middle">29</text>
<line x1="2024.5" y1="1056" x2="2024.5" y2="1061" stroke="#6a6a6a" stroke-width="1.5"/>
<text class="ax" x="2024.5" y="1083" text-anchor="middle">Feb</text>
<line x1="2177.8" y1="1056" x2="2177.8" y2="1061" stroke="#6a6a6a" stroke-width="1.5"/>
<text class="ax" x="2177.8" y="1083" text-anchor="middle">5</text>
<line x1="2387.5" y1="1056" x2="2387.5" y2="1061" stroke="#6a6a6a" stroke-width="1.5"/>
<text class="ax" x="2387.5" y="1083" text-anchor="middle">10</text>
<circle cx="2493.5" cy="1075.5" r="13.5" fill="#e9ebf3"/>
<text x="2493.5" y="1079.8" font-size="16" text-anchor="middle" fill="#4a4e5a">A</text>
<text x="11.2" y="21.5" font-size="19" font-weight="bold" fill="#1e1e1e" textLength="143.3" lengthAdjust="spacingAndGlyphs">FX:EURGBP, 240</text>
<text x="160.3" y="21.5" font-size="19" fill="#333" textLength="69.7" lengthAdjust="spacingAndGlyphs">0.84426</text>
<path d="M242.3,6.5 L250,21.6 L234.6,21.6 Z" fill="#3aa99c"/>
<text x="255.1" y="21.5" font-size="19" fill="#333" textLength="80.0" lengthAdjust="spacingAndGlyphs">+0.00111</text>
<text x="340.0" y="21.5" font-size="19" fill="#333" textLength="74.4" lengthAdjust="spacingAndGlyphs">(+0.13%)</text>
<text x="420.6" y="21.5" font-size="19" font-weight="bold" fill="#1e1e1e" textLength="19.9" lengthAdjust="spacingAndGlyphs">O:</text>
<text x="441.7" y="21.5" font-size="19" fill="#4db6ac" textLength="69.0" lengthAdjust="spacingAndGlyphs">0.84431</text>
<text x="516.6" y="21.5" font-size="19" font-weight="bold" fill="#1e1e1e" textLength="19.7" lengthAdjust="spacingAndGlyphs">H:</text>
<text x="537.5" y="21.5" font-size="19" fill="#4db6ac" textLength="69.4" lengthAdjust="spacingAndGlyphs">0.84492</text>
<text x="612.9" y="21.5" font-size="19" font-weight="bold" fill="#1e1e1e" textLength="15.0" lengthAdjust="spacingAndGlyphs">L:</text>
<text x="629.1" y="21.5" font-size="19" fill="#4db6ac" textLength="69.8" lengthAdjust="spacingAndGlyphs">0.84418</text>
<text x="703.7" y="21.5" font-size="19" font-weight="bold" fill="#1e1e1e" textLength="17.5" lengthAdjust="spacingAndGlyphs">C:</text>
<text x="722.2" y="21.5" font-size="19" fill="#4db6ac" textLength="69.2" lengthAdjust="spacingAndGlyphs">0.84426</text>
<rect x="0" y="0" width="2539" height="2" fill="#999"/>
<rect x="0" y="0" width="2" height="1099" fill="#999"/>
<rect x="-4" y="-4" width="12" height="12" rx="1.5" fill="#fff" stroke="#707070" stroke-width="1"/>
<rect x="1265.5" y="-4" width="15" height="12.5" rx="1.5" fill="#fff" stroke="#707070" stroke-width="1"/>
<rect x="2539.5" y="-4" width="12" height="12" rx="1.5" fill="#fff" stroke="#707070" stroke-width="1"/>
<rect x="-4" y="545.5" width="12.5" height="15" rx="1.5" fill="#fff" stroke="#707070" stroke-width="1"/>
<rect x="2539.5" y="545.5" width="12" height="15" rx="1.5" fill="#fff" stroke="#707070" stroke-width="1"/>
<rect x="-4" y="1099.5" width="12" height="12" rx="1.5" fill="#fff" stroke="#707070" stroke-width="1"/>
<rect x="1265.5" y="1099.5" width="15" height="12" rx="1.5" fill="#fff" stroke="#707070" stroke-width="1"/>
<rect x="2539.5" y="1099.5" width="12" height="12" rx="1.5" fill="#fff" stroke="#707070" stroke-width="1"/>
</svg></body></html>
